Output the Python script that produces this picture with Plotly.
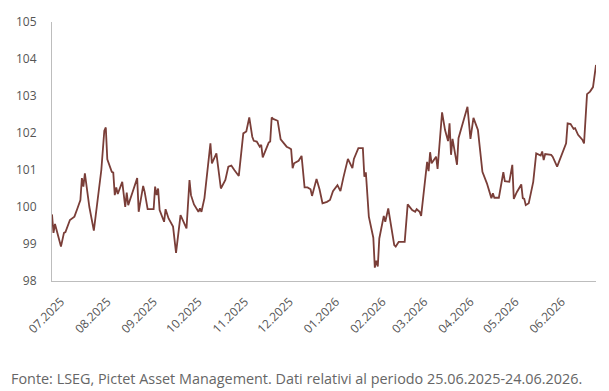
import plotly.graph_objects as go

dates = [
    "2025-06-25", "2025-06-26", "2025-06-27", "2025-06-29", "2025-07-01", "2025-07-03", "2025-07-04",
    "2025-07-07", "2025-07-10", "2025-07-12", "2025-07-14", "2025-07-15", "2025-07-16", "2025-07-17",
    "2025-07-20", "2025-07-23", "2025-07-28", "2025-07-30", "2025-07-31", "2025-08-01", "2025-08-04",
    "2025-08-05", "2025-08-06", "2025-08-07", "2025-08-08", "2025-08-11", "2025-08-13", "2025-08-14",
    "2025-08-15", "2025-08-18", "2025-08-21", "2025-08-22", "2025-08-25", "2025-08-26", "2025-08-28",
    "2025-09-01", "2025-09-02", "2025-09-03", "2025-09-04", "2025-09-05", "2025-09-08", "2025-09-09",
    "2025-09-11", "2025-09-14", "2025-09-16", "2025-09-19", "2025-09-23", "2025-09-25", "2025-09-26",
    "2025-09-28", "2025-10-01", "2025-10-02", "2025-10-03", "2025-10-05", "2025-10-09", "2025-10-10",
    "2025-10-13", "2025-10-16", "2025-10-19", "2025-10-21", "2025-10-23", "2025-10-25", "2025-10-28",
    "2025-10-31", "2025-11-02", "2025-11-04", "2025-11-06", "2025-11-07", "2025-11-09", "2025-11-11",
    "2025-11-12", "2025-11-13", "2025-11-17", "2025-11-18", "2025-11-19", "2025-11-20", "2025-11-23",
    "2025-11-25", "2025-11-27", "2025-11-29", "2025-12-01", "2025-12-02", "2025-12-03", "2025-12-04",
    "2025-12-07", "2025-12-09", "2025-12-11", "2025-12-13", "2025-12-15", "2025-12-16", "2025-12-19",
    "2025-12-21", "2025-12-23", "2025-12-26", "2025-12-28", "2025-12-30", "2026-01-02", "2026-01-04",
    "2026-01-06", "2026-01-09", "2026-01-12", "2026-01-13", "2026-01-16", "2026-01-19", "2026-01-20",
    "2026-01-21", "2026-01-23", "2026-01-26", "2026-01-27", "2026-01-28", "2026-01-29", "2026-01-30",
    "2026-02-02", "2026-02-03", "2026-02-05", "2026-02-09", "2026-02-10", "2026-02-12", "2026-02-16",
    "2026-02-18", "2026-02-21", "2026-02-23", "2026-02-24", "2026-02-26", "2026-02-27", "2026-03-01",
    "2026-03-03", "2026-03-04", "2026-03-05", "2026-03-06", "2026-03-09", "2026-03-10", "2026-03-13",
    "2026-03-15", "2026-03-17", "2026-03-18", "2026-03-19", "2026-03-20", "2026-03-23", "2026-03-24",
    "2026-03-27", "2026-03-30", "2026-04-01", "2026-04-03", "2026-04-06", "2026-04-08", "2026-04-09",
    "2026-04-12", "2026-04-14", "2026-04-15", "2026-04-16", "2026-04-17", "2026-04-20", "2026-04-23",
    "2026-04-24", "2026-04-27", "2026-04-29", "2026-04-30", "2026-05-02", "2026-05-05", "2026-05-06",
    "2026-05-07", "2026-05-08", "2026-05-10", "2026-05-13", "2026-05-15", "2026-05-18", "2026-05-19",
    "2026-05-20", "2026-05-21", "2026-05-25", "2026-05-26", "2026-05-29", "2026-06-01", "2026-06-03",
    "2026-06-04", "2026-06-05", "2026-06-07", "2026-06-09", "2026-06-10", "2026-06-12", "2026-06-15",
    "2026-06-16", "2026-06-18", "2026-06-20", "2026-06-22", "2026-06-24",
]

values = [
    99.8, 99.3, 99.54, 99.2, 98.93, 99.3, 99.32,
    99.65, 99.74, 99.96, 100.19, 100.78, 100.55, 100.91,
    100.0, 99.36, 101.0, 102.06, 102.15, 101.29, 100.95,
    100.93, 100.32, 100.53, 100.35, 100.68, 100.0, 100.39,
    100.05, 100.41, 100.78, 99.87, 100.57, 100.41, 99.94,
    99.94, 100.55, 100.32, 100.5, 99.92, 99.6, 99.94,
    99.69, 99.47, 98.76, 99.78, 99.42, 100.73, 100.32,
    100.07, 99.87, 99.96, 99.87, 100.24, 101.72, 101.18,
    101.45, 100.5, 100.73, 101.09, 101.12, 101.0, 100.84,
    101.99, 102.04, 102.42, 101.9, 101.79, 101.77, 101.63,
    101.68, 101.34, 101.74, 101.77, 102.42, 102.38, 102.33,
    101.83, 101.74, 101.63, 101.59, 101.56, 101.05, 101.18,
    101.25, 101.38, 100.53, 100.53, 100.48, 100.3, 100.76,
    100.48, 100.1, 100.14, 100.19, 100.43, 100.59, 100.43,
    100.8, 101.3, 101.05, 101.3, 101.59, 101.59, 100.82,
    100.94, 99.74, 99.17, 98.36, 98.55, 98.39, 99.15,
    99.76, 99.6, 99.96, 98.97, 98.93, 99.06, 99.06,
    100.07, 99.92, 99.87, 99.94, 99.87, 99.76, 100.46,
    101.22, 100.97, 101.48, 101.18, 101.36, 101.03, 102.56,
    102.08, 101.78, 102.26, 101.41, 101.84, 101.14, 101.86,
    102.32, 102.71, 101.84, 102.41, 102.08, 101.41, 100.95,
    100.64, 100.32, 100.24, 100.37, 100.25, 100.25, 100.94,
    100.7, 100.68, 101.14, 100.22, 100.4, 100.61, 100.24,
    100.22, 100.05, 100.1, 100.68, 101.45, 101.39, 101.5,
    101.27, 101.43, 101.41, 101.36, 101.09, 101.38, 101.59,
    101.72, 102.26, 102.24, 102.11, 102.13, 101.95, 101.81,
    101.72, 103.05, 103.12, 103.24, 103.84,
]

tick_dates = [
    "2025-07-01", "2025-08-01", "2025-09-01", "2025-10-01", "2025-11-01", "2025-12-01",
    "2026-01-01", "2026-02-01", "2026-03-01", "2026-04-01", "2026-05-01", "2026-06-01",
]
tick_labels = [
    "07.2025", "08.2025", "09.2025", "10.2025", "11.2025", "12.2025",
    "01.2026", "02.2026", "03.2026", "04.2026", "05.2026", "06.2026",
]
y_ticks = [98, 99, 100, 101, 102, 103, 104, 105]

source = "Fonte: LSEG, Pictet Asset Management. Dati relativi al periodo 25.06.2025-24.06.2026."

fig = go.Figure()
fig.add_trace(go.Scatter(
    x=dates, y=values, mode="lines",
    line=dict(color="#7a3e38", width=1.8),
    showlegend=False, hoverinfo="skip",
))

fig.update_layout(
    width=609, height=391,
    margin=dict(l=52, r=13, t=22, b=110),
    paper_bgcolor="white", plot_bgcolor="white",
    font=dict(family="Open Sans, sans-serif", color="#555555"),
    xaxis=dict(
        range=["2025-06-25", "2026-06-24"],
        tickmode="array", tickvals=tick_dates, ticktext=tick_labels,
        tickangle=-45, tickfont=dict(size=12, color="#555555"),
        showgrid=False, zeroline=False,
        showline=True, linecolor="#bdbdbd", linewidth=1,
        ticks="", ticklabelstandoff=8,
    ),
    yaxis=dict(
        range=[98, 105], tickmode="array", tickvals=y_ticks,
        tickfont=dict(size=12, color="#555555"),
        showgrid=False, zeroline=False,
        showline=True, linecolor="#bdbdbd", linewidth=1,
        ticks="", ticklabelstandoff=12,
    ),
    annotations=[dict(
        text=source, xref="paper", yref="paper",
        x=(9 - 52) / 544, y=(281 - 378) / 259,
        xanchor="left", yanchor="middle", showarrow=False,
        font=dict(family="Open Sans, sans-serif", size=14.4, color="#666666"),
    )],
)

fig.write_html("out.html")
